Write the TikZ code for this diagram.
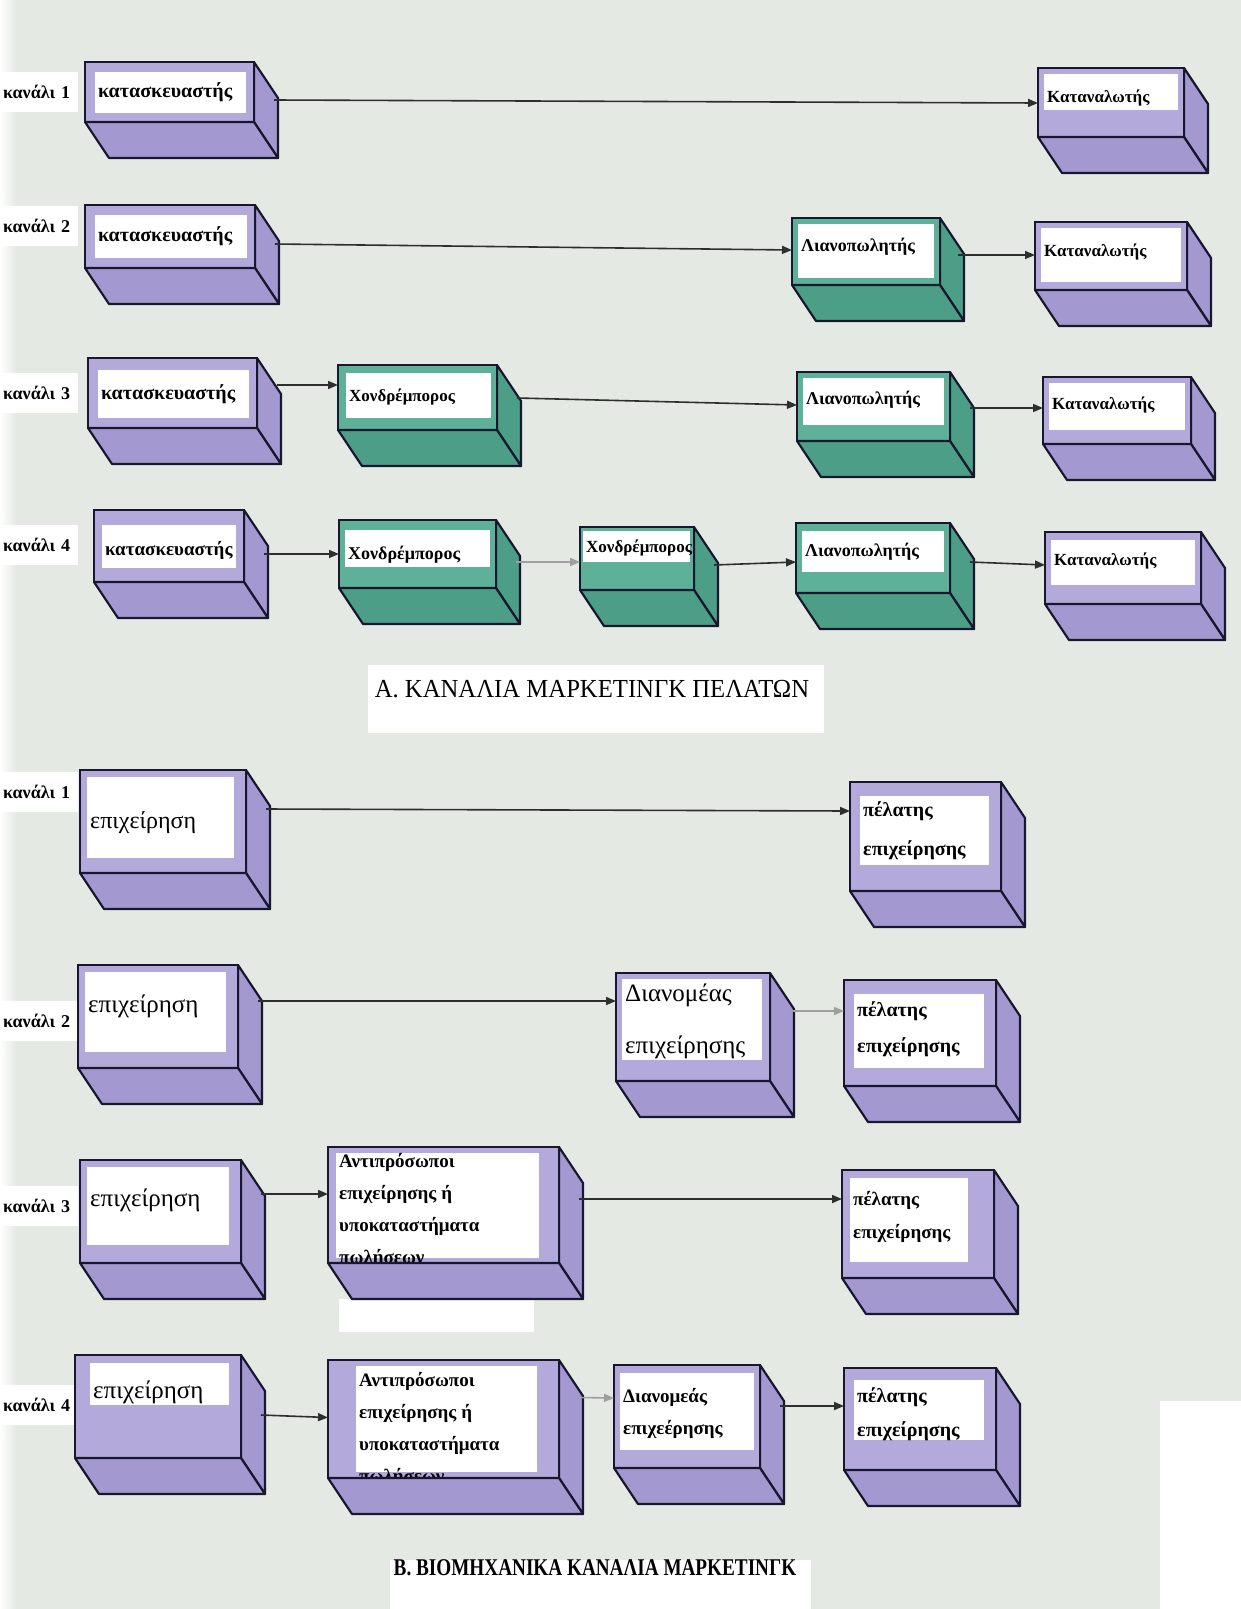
\documentclass[tikz,border=0pt]{standalone}
\usepackage{fontspec}
\setmainfont{Liberation Serif}
\usepackage{graphicx}
\usetikzlibrary{arrows.meta}
\definecolor{bg}{HTML}{E5E9E4}
\definecolor{Pfront}{HTML}{B3A9DB}
\definecolor{Pside}{HTML}{A398D0}
\definecolor{Gfront}{HTML}{5FB098}
\definecolor{Gside}{HTML}{4C9E86}
\definecolor{edgec}{HTML}{17172E}
\definecolor{arrc}{HTML}{2E2E2E}
\newcommand\fs[2]{\fontsize{#1}{#2}\selectfont}
\def\dx{24}\def\dy{36}
\def\wl{8}\def\wt{8}\def\wr{8}\def\tdy{0}
\newcommand\ins[4]{\def\wl{#1}\def\wt{#2}\def\wr{#3}\def\tdy{#4}}
\tikzset{
  face/.style={draw=edgec, line width=2.2pt, line join=round},
  front/.style={draw=edgec, line width=2.2pt, inner sep=0pt, outer sep=0pt},
  lbl/.style={anchor=west, inner sep=0pt, align=left, text=black},
  arr/.style={draw=arrc, line width=1.6pt, -{Triangle[length=10pt,width=8pt]}},
  arrl/.style={arr, draw=gray!75},
  chan/.style={anchor=west, fill=white, font=\fs{18}{20}\bfseries, inner xsep=3pt, inner ysep=0pt, minimum height=40pt, text width=72pt, align=left},
}
% #1 name #2 x1 #3 y1 #4 x2 #5 y2 #6 P/G #7 white bottom #8 font #9 text
\newcommand\cube[9]{%
  \filldraw[face, fill=#6side] (#4,#3) -- ++(\dx,\dy) -- ({#4+\dx},{#5+\dy}) -- (#4,#5) -- cycle;
  \node[front, fill=#6front, minimum width={(#4-#2)*1pt}, minimum height={(#5-#3)*1pt}] (#1) at ({(#2+#4)/2},{(#3+#5)/2}) {};
  \fill[white] ({#2+\wl},{#3+\wt}) rectangle ({#4-\wr},#7);
  \node[lbl, font=#8] (#1-t) at ({#2+\wl+3},{(#3+\wt+#7)/2+\tdy}) {#9};
  \filldraw[face, fill=#6side] (#2,#5) -- (#4,#5) -- ({#4+\dx},{#5+\dy}) -- ({#2+\dx},{#5+\dy}) -- cycle;
}
\begin{document}
\begin{tikzpicture}[x=1pt,y=-1pt]
\useasboundingbox (0,0) rectangle (1241,1609);
\fill[bg] (0,0) rectangle (1241,1609);
\shade[left color=white, right color=bg] (0,0) rectangle (16,1609);
\fill[white] (1160,1401) rectangle (1241,1609);

% ---------- Section A ----------
\node[chan] (ca1) at (0,92) {κανάλι 1};
\node[chan] (ca2) at (0,226) {κανάλι 2};
\node[chan] (ca3) at (0,393) {κανάλι 3};
\node[chan] (ca4) at (0,545) {κανάλι 4};

\ins{10}{10}{8}{0}
\cube{K1}{85}{62}{254}{122}{P}{113}{\fs{20}{22}\bfseries}{κατασκευαστής}
\ins{6}{6}{6}{6}
\cube{C1}{1038}{68}{1184}{137}{P}{110}{\fs{17}{19}\bfseries}{Καταναλωτής}

\ins{10}{10}{8}{0}
\cube{K2}{85}{205}{255}{268}{P}{258}{\fs{20}{22}\bfseries}{κατασκευαστής}
\ins{6}{6}{6}{-4}
\cube{D2}{792}{218}{940}{285}{G}{278}{\fs{18}{20}\bfseries}{Λιανοπωλητής}
\ins{6}{6}{6}{-3}
\cube{C2}{1035}{222}{1187}{290}{P}{282}{\fs{17}{19}\bfseries}{Καταναλωτής}

\ins{10}{12}{8}{0}
\cube{K3}{88}{358}{257}{428}{P}{418}{\fs{20}{22}\bfseries}{κατασκευαστής}
\ins{8}{8}{6}{1}
\cube{X3}{338}{365}{497}{430}{G}{418}{\fs{17}{19}\bfseries}{Χονδρέμπορος}
\ins{6}{6}{6}{-2}
\cube{D3}{797}{372}{950}{441}{G}{425}{\fs{18}{20}\bfseries}{Λιανοπωλητής}
\ins{6}{6}{6}{-2}
\cube{C3}{1043}{377}{1191}{444}{P}{430}{\fs{17}{19}\bfseries}{Καταναλωτής}

\ins{8}{15}{8}{4}
\cube{K4}{94}{510}{244}{582}{P}{568}{\fs{19}{21}\bfseries}{κατασκευαστής}
\ins{6}{10}{6}{6}
\cube{X4a}{339}{520}{496}{588}{G}{567}{\fs{18}{20}\bfseries}{Χονδρέμπορος}
\ins{3}{4}{4}{1}
\cube{X4b}{580}{527}{694}{590}{G}{562}{\fs{17}{19}\bfseries}{Χονδρέμπορος}
\ins{6}{8}{6}{0}
\cube{D4}{796}{523}{950}{593}{G}{572}{\fs{18}{20}\bfseries}{Λιανοπωλητής}
\ins{6}{8}{6}{-2}
\cube{C4}{1045}{532}{1201}{604}{P}{585}{\fs{17}{19}\bfseries}{Καταναλωτής}

\draw[arr] ([shift={(20,8)}]K1.east) -- ([shift={(0,0.5)}]C1.west);
\draw[arr] ([shift={(20,7.5)}]K2.east) -- ([shift={(0,-1.5)}]D2.west);
\draw[arr] ([shift={(18,3.5)}]D2.east) -- ([shift={(0,-1)}]C2.west);
\draw[arr] ([shift={(20,-8)}]K3.east) -- ([shift={(0,-12.5)}]X3.west);
\draw[arr] ([shift={(20,0.5)}]X3.east) -- ([shift={(0,-1.5)}]D3.west);
\draw[arr] ([shift={(20,1.5)}]D3.east) -- ([shift={(0,-2.5)}]C3.west);
\draw[arr] ([shift={(20,8)}]K4.east) -- ([shift={(0,0)}]X4a.west);
\draw[arrl] ([shift={(20,8)}]X4a.east) -- ([shift={(0,3.5)}]X4b.west);
\draw[arr] ([shift={(20,6.5)}]X4b.east) -- ([shift={(0,4)}]D4.west);
\draw[arr] ([shift={(20,4)}]D4.east) -- ([shift={(0,-3)}]C4.west);

\fill[white] (368,665) rectangle (824,733);
\node[font=\fs{26}{28}] (tA) at (592,689) {\scalebox{0.95}[1]{Α. ΚΑΝΑΛΙΑ ΜΑΡΚΕΤΙΝΓΚ ΠΕΛΑΤΩΝ}};

% ---------- Section B ----------
\node[chan] (cb1) at (0,792) {κανάλι 1};
\node[chan] (cb2) at (0,1021) {κανάλι 2};
\node[chan] (cb3) at (0,1206) {κανάλι 3};
\node[chan] (cb4) at (0,1405) {κανάλι 4};

\fill[white] (339,1299) rectangle (534,1332);

\ins{7}{7}{12}{5}
\cube{E1}{80}{770}{246}{873}{P}{858}{\fs{24}{26}}{επιχείρηση}
\ins{10}{14}{12}{0}
\cube{P1}{850}{782}{1001}{891}{P}{865}{\fs{20}{39}\bfseries}{πέλατης\\επιχείρησης}

\ins{7}{7}{12}{-6}
\cube{E2}{78}{965}{238}{1068}{P}{1052}{\fs{25}{27}}{επιχείρηση}
\ins{6}{6}{8}{2}
\cube{DB2}{616}{973}{770}{1081}{P}{1060}{\fs{25}{52}}{Διανομέας\\επιχείρησης}
\ins{10}{14}{12}{-2}
\cube{P2}{844}{980}{996}{1086}{P}{1068}{\fs{20}{36}\bfseries}{πέλατης\\επιχείρησης}

\ins{7}{7}{12}{-6}
\cube{E3}{80}{1160}{241}{1263}{P}{1245}{\fs{25}{27}}{επιχείρηση}
\ins{8}{6}{20}{5}
\cube{A3}{328}{1147}{559}{1263}{P}{1258}{\fs{19}{32}\bfseries}{Αντιπρόσωποι\\επιχείρησης ή\\υποκαταστήματα\\πωλήσεων}
\ins{8}{8}{26}{-3}
\cube{P3}{842}{1170}{994}{1278}{P}{1262}{\fs{19}{33}\bfseries}{πέλατης\\επιχείρησης}

\ins{15}{8}{12}{8}
\cube{E4}{75}{1355}{241}{1458}{P}{1405}{\fs{25}{27}}{επιχείρηση}
\ins{28}{6}{22}{10}
\cube{A4b}{328}{1360}{559}{1478}{P}{1472}{\fs{19}{32}\bfseries}{Αντιπρόσωποι\\επιχείρησης ή\\υποκαταστήματα\\πωλήσεων}
\ins{6}{8}{6}{2}
\cube{DB4}{614}{1365}{760}{1468}{P}{1450}{\fs{19}{32}\bfseries}{Διανομεάς\\επιχεέρησης}
\ins{10}{12}{12}{4}
\cube{P4}{844}{1368}{996}{1470}{P}{1440}{\fs{20}{34}\bfseries}{πέλατης\\επιχείρησης}

\draw[arr] ([shift={(20,-12.5)}]E1.east) -- ([shift={(0,-25.5)}]P1.west);
\draw[arr] ([shift={(20,-15.5)}]E2.east) -- ([shift={(0,-26)}]DB2.west);
\draw[arrl] ([shift={(20,-16)}]DB2.east) -- ([shift={(0,-22)}]P2.west);
\draw[arr] ([shift={(20,-17.5)}]E3.east) -- ([shift={(0,-11)}]A3.west);
\draw[arr] ([shift={(20,-6)}]A3.east) -- ([shift={(0,-25)}]P3.west);
\draw[arr] ([shift={(20,8.5)}]E4.east) -- ([shift={(0,-1.5)}]A4b.west);
\draw[arrl] ([shift={(20,-21.5)}]A4b.east) -- ([shift={(0,-18.5)}]DB4.west);
\draw[arr] ([shift={(20,-10.5)}]DB4.east) -- ([shift={(0,-13)}]P4.west);

\fill[white] (390,1560) rectangle (811,1609);
\node[font=\fs{24}{26}\bfseries] (tB) at (595,1568) {\scalebox{0.8}[1]{Β. ΒΙΟΜΗΧΑΝΙΚΑ ΚΑΝΑΛΙΑ ΜΑΡΚΕΤΙΝΓΚ}};
\end{tikzpicture}
\end{document}
